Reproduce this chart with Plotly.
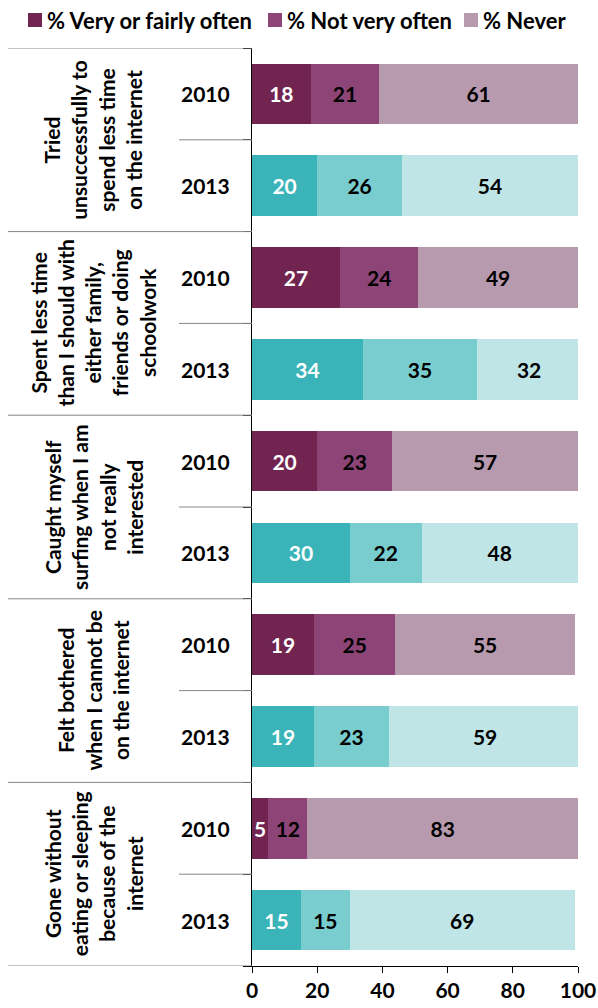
import plotly.graph_objects as go

# Survey items (group labels) and survey years
items = [
    "Tried<br>unsuccessfully to<br>spend less time<br>on the internet",
    "Spent less time<br>than I should with<br>either family,<br>friends or doing<br>schoolwork",
    "Caught myself<br>surfing when I am<br>not really<br>interested",
    "Felt bothered<br>when I cannot be<br>on the internet",
    "Gone without<br>eating or sleeping<br>because of the<br>internet",
]
years = ["2010", "2013"]
series_names = ["% Very or fairly often", "% Not very often", "% Never"]

# Percentages per item, in the order of items
very_2010 = [18, 27, 20, 19, 5]
notvery_2010 = [21, 24, 23, 25, 12]
never_2010 = [61, 49, 57, 55, 83]

very_2013 = [20, 34, 30, 19, 15]
notvery_2013 = [26, 35, 22, 23, 15]
never_2013 = [54, 32, 48, 59, 69]

data = {
    "2010": [very_2010, notvery_2010, never_2010],
    "2013": [very_2013, notvery_2013, never_2013],
}
colors = {
    "2010": ["#70244f", "#8d4477", "#b79aae"],
    "2013": ["#3ab4b8", "#79cdcf", "#bfe5e7"],
}
text_colors = ["white", "black", "black"]

FONT = "Lato"
FS = 21

W, H = 598, 1008
ML, MR, MT, MB = 252, 20, 48, 42
plot_w = W - ML - MR
plot_h = H - MT - MB


def px_to_paper_x(px):
    return (px - ML) / plot_w


def px_to_paper_y(py):
    return (H - MB - py) / plot_h


fig = go.Figure()

n_rows = len(items) * len(years)
for yi, year in enumerate(years):
    ypos = [2 * i + yi + 0.5 for i in range(len(items))]
    for si, name in enumerate(series_names):
        vals = data[year][si]
        fig.add_trace(go.Bar(
            x=vals,
            y=ypos,
            orientation="h",
            name=name,
            marker=dict(color=colors[year][si], line=dict(width=0)),
            width=0.66,
            text=[str(v) for v in vals],
            textposition="inside",
            insidetextanchor="middle",
            constraintext="none",
            textfont=dict(family=FONT, size=FS, color=text_colors[si], weight="bold"),
            showlegend=False,
            hoverinfo="skip",
        ))

annotations = []
shapes = []

# Legend row across the top (2010 colours)
legend_items = [(28, 48), (268, 288), (464, 484)]
for si, (sq_x, txt_x) in enumerate(legend_items):
    shapes.append(dict(
        type="rect", xref="paper", yref="paper",
        x0=px_to_paper_x(sq_x), x1=px_to_paper_x(sq_x + 14),
        y0=px_to_paper_y(27), y1=px_to_paper_y(13),
        fillcolor=colors["2010"][si], line=dict(width=0),
    ))
    annotations.append(dict(
        x=px_to_paper_x(txt_x - 3), xref="paper",
        y=px_to_paper_y(20), yref="paper",
        text=f"<b>{series_names[si]}</b>", showarrow=False,
        font=dict(family=FONT, size=22, color="black"),
        xanchor="left", yanchor="middle",
    ))

# Year labels next to each bar
for i in range(len(items)):
    for yi, year in enumerate(years):
        annotations.append(dict(
            x=px_to_paper_x(205), xref="paper",
            y=2 * i + yi + 0.5, yref="y",
            text=f"<b>{year}</b>", showarrow=False,
            font=dict(family=FONT, size=FS, color="black"),
            xanchor="center", yanchor="middle",
        ))
    # Rotated item label spanning the two bars
    annotations.append(dict(
        x=px_to_paper_x(93), xref="paper",
        y=2 * i + 1, yref="y",
        text=f"<b>{items[i]}</b>", showarrow=False, textangle=-90,
        font=dict(family=FONT, size=FS, color="black"),
        xanchor="center", yanchor="middle", align="center",
    ))

# Group separators and year separators in the label area
for b in range(0, n_rows + 1, 2):
    shapes.append(dict(type="line", xref="paper", yref="y",
                       x0=px_to_paper_x(8), x1=0, y0=b, y1=b,
                       line=dict(color="#868686", width=1)))
for b in range(1, n_rows, 2):
    shapes.append(dict(type="line", xref="paper", yref="y",
                       x0=px_to_paper_x(179), x1=0, y0=b, y1=b,
                       line=dict(color="#868686", width=1)))

fig.update_layout(
    width=W, height=H,
    margin=dict(l=ML, r=MR, t=MT, b=MB, pad=0, autoexpand=False),
    barmode="stack",
    showlegend=False,
    plot_bgcolor="white", paper_bgcolor="white",
    font=dict(family=FONT, size=FS, color="black"),
    xaxis=dict(
        range=[0, 100], tickvals=[0, 20, 40, 60, 80, 100],
        ticks="outside", ticklen=6, tickcolor="black",
        showline=True, linecolor="black", linewidth=1,
        showgrid=False, zeroline=False, automargin=False,
        tickfont=dict(family=FONT, size=FS, color="black", weight="bold"),
    ),
    yaxis=dict(
        range=[n_rows, 0], tickvals=list(range(n_rows + 1)),
        showticklabels=False, ticks="outside", ticklen=8, tickcolor="black",
        showline=True, linecolor="black", linewidth=1,
        showgrid=False, zeroline=False, automargin=False,
    ),
    annotations=annotations,
    shapes=shapes,
)

fig.write_html("out.html")
